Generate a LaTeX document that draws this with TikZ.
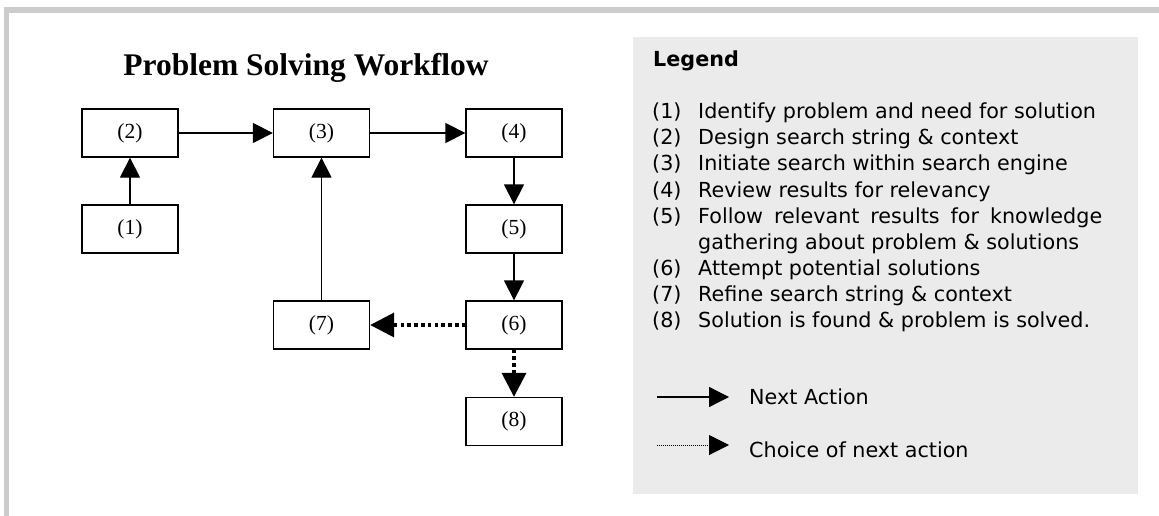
\documentclass[tikz,border=0pt]{standalone}
\usepackage{fontspec}
\setmainfont{Liberation Serif}
\newfontfamily\verd{DejaVu Sans}
\usetikzlibrary{arrows.meta}
\definecolor{framegray}{HTML}{CCCCCC}
\definecolor{leggray}{HTML}{EBEBEB}
\tikzset{
  stepbox/.style={draw, line width=1.3pt, minimum width=96pt, minimum height=48pt, inner sep=0pt, font=\fontsize{21.5}{25}\selectfont},
  arr/.style={-{Triangle[length=20pt,width=20pt]}, line width=1.3pt},
  dotarr/.style={-{Triangle[length=24pt,width=24pt]}, line width=3.5pt, dash pattern=on 3.5pt off 3.3pt},
  legtxt/.style={anchor=base west, inner sep=0pt, font=\verd\fontsize{20.7}{26}\selectfont},
}
\begin{document}
\begin{tikzpicture}[x=1pt,y=-1pt]
\useasboundingbox (0,0) rectangle (1159,516);
\fill[white] (0,0) rectangle (1159,516);
% frame
\draw[framegray, line width=5.5pt] (6.5,516) -- (6.5,10) -- (1159,10);
% legend background
\fill[leggray] (633,37) rectangle (1138,494);
% title
\node[anchor=base, inner sep=0pt, font=\bfseries\fontsize{31.5}{36}\selectfont] (title) at (306,76) {Problem Solving Workflow};
% boxes
\node[stepbox] (n2) at (130,133) {(2)};
\node[stepbox] (n1) at (130,229) {(1)};
\node[stepbox] (n3) at (321.5,133) {(3)};
\node[stepbox] (n4) at (514,133) {(4)};
\node[stepbox] (n5) at (514,229) {(5)};
\node[stepbox] (n6) at (514,325) {(6)};
\node[stepbox] (n7) at (321.5,325) {(7)};
\node[stepbox] (n8) at (514,421.5) {(8)};
% connectors
\draw[arr] (n1.north) -- (n2.south);
\draw[arr] (n2.east) -- (n3.west);
\draw[arr] (n3.east) -- (n4.west);
\draw[arr] (n4.south) -- (n5.north);
\draw[arr] (n5.south) -- (n6.north);
\draw[arr] (n7.north) -- (n3.south);
\draw[dotarr] (n6.west) -- (n7.east);
\draw[dotarr] (n6.south) -- (n8.north);
% legend
\node[legtxt, font=\verd\bfseries\fontsize{20.7}{26}\selectfont] (lg) at (653,67) {Legend};
\node[legtxt] (k1) at (652,119) {(1)};
\node[legtxt] (t1) at (698,119) {Identify problem and need for solution};
\node[legtxt] (k2) at (652,145) {(2)};
\node[legtxt] (t2) at (698,145) {Design search string \& context};
\node[legtxt] (k3) at (652,171) {(3)};
\node[legtxt] (t3) at (698,171) {Initiate search within search engine};
\node[legtxt] (k4) at (652,197) {(4)};
\node[legtxt] (t4) at (698,197) {Review results for relevancy};
\node[legtxt] (k5) at (652,223) {(5)};
\node[legtxt] (t5) at (698,223) {\makebox[404pt][s]{Follow relevant results for knowledge}};
\node[legtxt] (t5b) at (698,249) {gathering about problem \& solutions};
\node[legtxt] (k6) at (652,275) {(6)};
\node[legtxt] (t6) at (698,275) {Attempt potential solutions};
\node[legtxt] (k7) at (652,301) {(7)};
\node[legtxt] (t7) at (698,301) {Refine search string \& context};
\node[legtxt] (k8) at (652,327) {(8)};
\node[legtxt] (t8) at (698,327) {Solution is found \& problem is solved.};
% legend arrows
\coordinate (a1s) at (657,397);
\coordinate (a1e) at (729,397);
\draw[arr] (a1s) -- (a1e);
\node[legtxt] (na) at (749,404) {Next Action};
\coordinate (a2s) at (657,445);
\coordinate (a2e) at (729,445);
\draw[-{Triangle[length=20pt,width=20pt]}, line width=1pt, dash pattern=on 1pt off 1pt] (a2s) -- (a2e);
\node[legtxt] (ca) at (749,457) {Choice of next action};
\end{tikzpicture}
\end{document}
